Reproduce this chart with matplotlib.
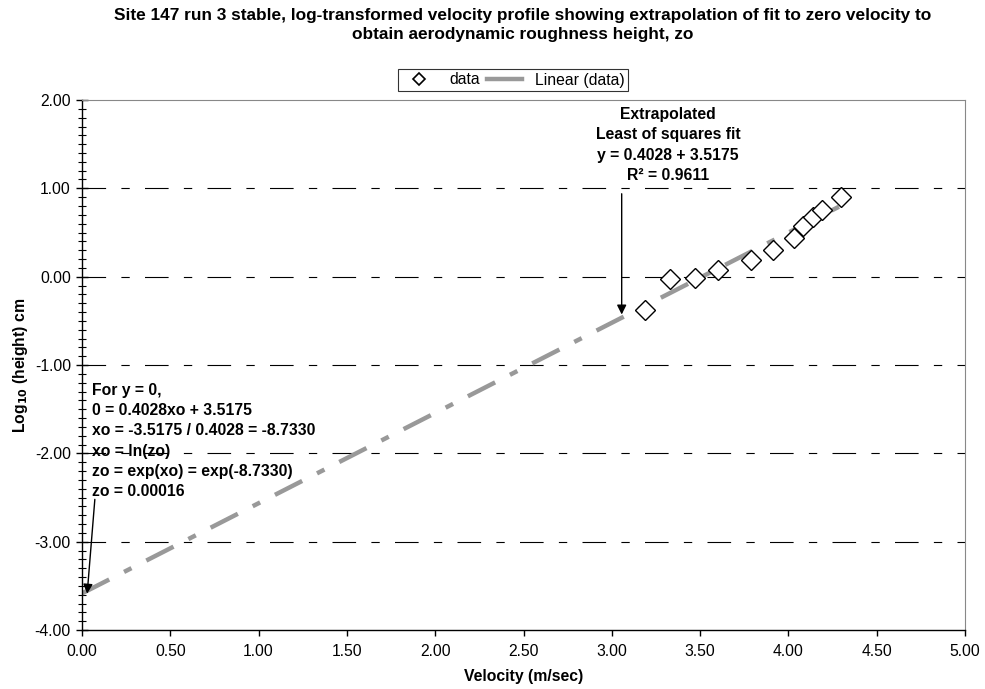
import numpy as np
import matplotlib
matplotlib.use("Agg")
import matplotlib.pyplot as plt

plt.rcParams['font.family'] = ['Liberation Sans', 'DejaVu Sans']
plt.rcParams['lines.scale_dashes'] = False

# velocity (m/sec) and log10 height (cm)
velocity = [3.19, 3.33, 3.47, 3.60, 3.79, 3.91, 4.03, 4.08, 4.14, 4.19, 4.30]
log_height = [-0.38, -0.03, -0.01, 0.07, 0.19, 0.30, 0.44, 0.57, 0.68, 0.75, 0.90]

title = ("Site 147 run 3 stable, log-transformed velocity profile showing extrapolation of fit to zero velocity to\n"
         "obtain aerodynamic roughness height, zo")
fit_note = "Extrapolated\nLeast of squares fit\ny = 0.4028 + 3.5175\nR\u00b2 = 0.9611"
zo_note = ("For y = 0,\n0 = 0.4028xo + 3.5175\nxo = -3.5175 / 0.4028 = -8.7330\n"
           "xo = ln(zo)\nzo = exp(xo) = exp(-8.7330)\nzo = 0.00016")

fs = 11.3

fig = plt.figure(figsize=(9.85, 6.89), dpi=100)
ax = fig.add_axes([82/985, 1-630/689, (965-82)/985, (630-100)/689])

# trend line extrapolated back to zero velocity
slope, icpt = np.polyfit(velocity, log_height, 1)
xs = np.array([0.0, max(velocity)])
ax.plot(xs, slope*xs + icpt, color='#999999', lw=3.2,
        dashes=(22, 12, 6, 12), solid_capstyle='butt', dash_capstyle='butt', zorder=2)
ax.plot(velocity, log_height, linestyle='none', marker='D', ms=10.5, mfc='white',
        mec='black', mew=1.0, zorder=3)

# grid lines
for yv in [1, 0, -1, -2, -3]:
    ax.axhline(yv, color='black', lw=0.8, dashes=(17, 11, 6, 11), zorder=1)

ax.set_xlim(0, 5)
ax.set_ylim(-4, 2)
ax.set_xticks(np.arange(0, 5.01, 0.5))
ax.set_yticks(np.arange(-4, 2.01, 1))
ax.set_yticks(np.arange(-4, 2.01, 0.1), minor=True)
ax.xaxis.set_major_formatter(matplotlib.ticker.FormatStrFormatter('%.2f'))
ax.yaxis.set_major_formatter(matplotlib.ticker.FormatStrFormatter('%.2f'))
ax.tick_params(axis='y', which='major', direction='inout', length=8, width=1, labelsize=fs, pad=4)
ax.tick_params(axis='y', which='minor', direction='inout', length=6, width=0.8)
ax.tick_params(axis='x', which='major', direction='out', length=4, width=1, labelsize=fs, pad=6)
for s in ['top', 'right']:
    ax.spines[s].set_color('#888888')
for s in ['left', 'bottom']:
    ax.spines[s].set_color('black')
    ax.spines[s].set_linewidth(1.0)

ax.set_xlabel('Velocity (m/sec)', fontsize=fs, fontweight='bold', labelpad=7)
ax.set_ylabel('Log$_{\\mathbf{10}}$ (height) cm', fontsize=fs, fontweight='bold', labelpad=3)

fig.text(523/985, 1-25/689, title, ha='center', va='center', fontsize=12.4,
         fontweight='bold', linespacing=1.3)

ax.annotate('', xy=(3.056, -0.46), xytext=(3.056, 0.97),
            arrowprops=dict(arrowstyle='-|>', color='black', lw=1, mutation_scale=14))
ax.text(3.318, 1.49, fit_note, ha='center', va='center', fontsize=fs,
        fontweight='bold', linespacing=1.45)

ax.text(0.055, -1.2, zo_note, ha='left', va='top', fontsize=fs,
        fontweight='bold', linespacing=1.44)
ax.annotate('', xy=(0.028, -3.62), xytext=(0.074, -2.49),
            arrowprops=dict(arrowstyle='-|>', color='black', lw=1, mutation_scale=14))

h1 = plt.Line2D([], [], linestyle='none', marker='D', ms=6, mfc='white', mec='black', mew=1.2)
h2 = plt.Line2D([], [], color='#999999', lw=3.2)
leg = fig.legend([h1, h2], ['data', 'Linear (data)'], loc='center', bbox_to_anchor=(513/985, 1-80/689),
                 ncol=2, fontsize=fs, frameon=True, fancybox=False, edgecolor='black',
                 handlelength=2.2, columnspacing=0.5, handletextpad=0.8, borderpad=0.22)
leg.get_frame().set_linewidth(0.8)

fig.savefig('out.png', dpi=100)
